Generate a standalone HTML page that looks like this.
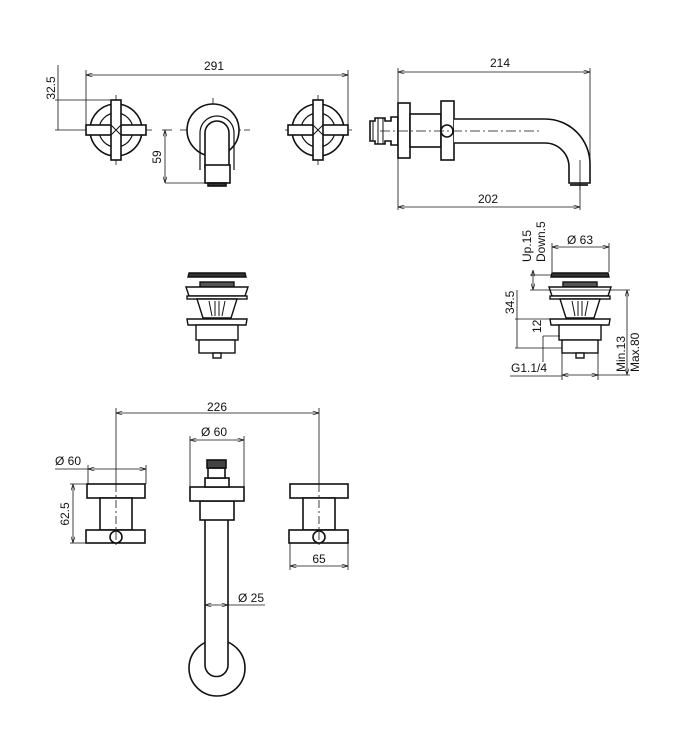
<!DOCTYPE html>
<html><head><meta charset="utf-8"><style>
html,body{margin:0;padding:0;background:#fff}
svg{display:block}
text{font-family:"Liberation Sans",sans-serif;font-size:12px;fill:#111}
</style></head><body>
<svg width="699" height="750" viewBox="0 0 699 750" xmlns="http://www.w3.org/2000/svg">
<defs>
<marker id="a" viewBox="0 0 10 6" refX="10" refY="3" markerWidth="8" markerHeight="5" orient="auto-start-reverse"><path d="M0,0L10,3L0,6" fill="none" stroke="#111" stroke-width="1"/></marker>
<g id="cross">
<circle cx="0" cy="0" r="26" fill="none" stroke="#111" stroke-width="1.6"/>
<circle cx="0" cy="0" r="17" fill="none" stroke="#111" stroke-width="1.2"/>
<rect x="-30" y="-5" width="60" height="10" fill="#fff" stroke="#111" stroke-width="1.6"/>
<rect x="-5" y="-30" width="10" height="60" fill="#fff" stroke="#111" stroke-width="1.6"/>
<path d="M-5,-5L5,5M5,-5L-5,5" stroke="#111" stroke-width="1"/>
</g>
<g id="waste" fill="#fff" stroke="#111" stroke-width="1.4">
<path d="M-29,277L-28,273L28,273L29,277Z" fill="#333"/>
<rect x="-17" y="282" width="34" height="5" fill="#555"/>
<path d="M-31,287L31,287L28,296L-28,296Z"/>
<rect x="-30" y="296" width="60" height="3"/>
<path d="M-20,299L20,299L14,318L-14,318Z"/>
<path d="M-8,301L-5,316M8,301L5,316M-2,301L-2,316M2,301L2,316" stroke-width="1"/>
<path d="M-30,319L30,319L29,325L-29,325Z"/>
<rect x="-21" y="325" width="42" height="15"/>
<rect x="-18" y="340" width="36" height="13"/>
<rect x="-4" y="353" width="8" height="5"/>
</g>
<g id="handle" fill="#fff" stroke="#111" stroke-width="1.6">
<rect x="-29" y="484" width="58" height="14"/>
<rect x="-16" y="498" width="32" height="32"/>
<rect x="-30" y="530" width="59" height="13"/>
<circle cx="0" cy="537" r="6"/>
</g>
</defs>
<g stroke="#111" stroke-width="0.8" fill="none">
<line x1="86" y1="75" x2="348" y2="75" marker-start="url(#a)" marker-end="url(#a)"/>
<line x1="86" y1="70" x2="86" y2="130"/><line x1="348" y1="70" x2="348" y2="130"/>
<line x1="55" y1="100" x2="110" y2="100"/><line x1="55" y1="130" x2="80" y2="130"/>
<line x1="58" y1="100" x2="58" y2="130"/>
<line x1="58" y1="65" x2="58" y2="100"/>
<line x1="162" y1="130" x2="172" y2="130"/><line x1="165" y1="183" x2="205" y2="183"/>
<line x1="165" y1="130" x2="165" y2="183" marker-start="url(#a)" marker-end="url(#a)"/>
<g stroke-dasharray="8,3,2,3"><line x1="80" y1="130" x2="152" y2="130"/><line x1="116" y1="95" x2="116" y2="165"/>
<line x1="180" y1="130" x2="250" y2="130"/><line x1="213" y1="98" x2="213" y2="130"/>
<line x1="285" y1="130" x2="352" y2="130"/><line x1="318" y1="95" x2="318" y2="165"/></g>
</g>
<use href="#cross" transform="translate(116,130)"/>
<use href="#cross" transform="translate(318,130)"/>
<g fill="#fff" stroke="#111" stroke-width="1.6">
<circle cx="213" cy="130" r="26"/>
<path d="M205,168L205,133A12,12 0 0 1 229,133L229,168"/>
<path d="M200,170L200,133A17,17 0 0 1 234,133L234,170" fill="none" stroke-width="1.2"/>
<rect x="205" y="165" width="25" height="18"/>
<rect x="208" y="183" width="18" height="3" fill="#333"/>
</g>
<text x="214" y="70" text-anchor="middle">291</text>
<text transform="translate(55,88) rotate(-90)" text-anchor="middle">32.5</text>
<text transform="translate(161,157) rotate(-90)" text-anchor="middle">59</text>
<g stroke="#111" stroke-width="0.8" fill="none">
<line x1="398" y1="72" x2="590" y2="72" marker-start="url(#a)" marker-end="url(#a)"/>
<line x1="398" y1="68" x2="398" y2="210"/><line x1="590" y1="68" x2="590" y2="180"/>
<line x1="398" y1="207" x2="580" y2="207" marker-start="url(#a)" marker-end="url(#a)"/>
<line x1="580" y1="155" x2="580" y2="210"/>
</g>
<g fill="#fff" stroke="#111" stroke-width="1.6">
<path d="M370,121h5v-3h10v3h6v-4h7v28h-7v-4h-6v3h-10v-3h-5Z"/>
<path d="M373,121v20M378,118v26M383,118v26" stroke-width="1"/>
<rect x="398" y="103" width="12" height="55"/>
<rect x="410" y="114" width="31" height="33"/>
<rect x="441" y="101" width="13" height="59"/>
<path d="M454,119L545,119A45,45 0 0 1 590,164L590,183L569,183L569,167A24,24 0 0 0 545,143L454,143" />
<circle cx="447" cy="131" r="6"/>
<rect x="570" y="183" width="18" height="3" fill="#333" stroke="none"/>
</g>
<line x1="380" y1="131" x2="540" y2="131" stroke="#111" stroke-width="0.8" stroke-dasharray="10,3,2,3"/>
<line x1="580" y1="160" x2="580" y2="190" stroke="#111" stroke-width="0.8"/>
<text x="500" y="67" text-anchor="middle">214</text>
<text x="488" y="203" text-anchor="middle">202</text>
<use href="#waste" transform="translate(217,0)"/>
<use href="#waste" transform="translate(580,0)"/>
<g stroke="#111" stroke-width="0.8" fill="none">
<line x1="552" y1="247" x2="609" y2="247" marker-start="url(#a)" marker-end="url(#a)"/>
<line x1="552" y1="243" x2="552" y2="272"/><line x1="609" y1="243" x2="609" y2="272"/>
<line x1="530" y1="275" x2="552" y2="275"/>
<line x1="533" y1="270" x2="533" y2="290" marker-start="url(#a)" marker-end="url(#a)"/>
<line x1="530" y1="290" x2="630" y2="290"/>
<line x1="627" y1="290" x2="627" y2="375" marker-start="url(#a)" marker-end="url(#a)"/>
<line x1="517" y1="290" x2="517" y2="348"/>
<line x1="515" y1="319" x2="550" y2="319"/>
<line x1="515" y1="348" x2="562" y2="348"/>
<line x1="543" y1="336" x2="543" y2="362"/>
<line x1="543" y1="336" x2="560" y2="336"/>
<line x1="562" y1="340" x2="562" y2="380"/><line x1="598" y1="340" x2="598" y2="380"/>
<line x1="562" y1="375" x2="598" y2="375" marker-start="url(#a)" marker-end="url(#a)"/>
<line x1="510" y1="376" x2="562" y2="376"/>
<line x1="598" y1="375" x2="630" y2="375"/>
</g>
<text x="567" y="244">Ø 63</text>
<text transform="translate(531,262) rotate(-90)">Up.15</text>
<text transform="translate(545,262) rotate(-90)">Down.5</text>
<text transform="translate(514,314) rotate(-90)">34.5</text>
<text transform="translate(541,333) rotate(-90)">12</text>
<text x="511" y="372">G1.1/4</text>
<text transform="translate(625,372) rotate(-90)">Min.13</text>
<text transform="translate(639,372) rotate(-90)">Max.80</text>
<use href="#handle" transform="translate(116,0)"/>
<use href="#handle" transform="translate(319,0)"/>
<g fill="#fff" stroke="#111" stroke-width="1.6">
<circle cx="217" cy="668" r="28" fill="none"/>
<path d="M205,520L205,665A11.5,11.5 0 0 0 228,665L228,520" fill="#fff"/>
<rect x="200" y="501" width="34" height="19"/>
<rect x="190" y="487" width="54" height="14"/>
<rect x="205" y="478" width="24" height="9"/>
<rect x="208" y="468" width="17" height="10"/>
<rect x="207" y="460" width="19" height="8" fill="#444"/>
</g>
<g stroke="#111" stroke-width="0.8" fill="none">
<line x1="116" y1="413" x2="319" y2="413" marker-start="url(#a)" marker-end="url(#a)"/>
<line x1="116" y1="408" x2="116" y2="484"/><line x1="319" y1="408" x2="319" y2="484"/>
<g stroke-dasharray="8,3,2,3"><line x1="116" y1="484" x2="116" y2="545"/><line x1="319" y1="484" x2="319" y2="545"/></g>
<line x1="88" y1="469" x2="146" y2="469" marker-start="url(#a)" marker-end="url(#a)"/>
<line x1="55" y1="469" x2="88" y2="469"/>
<line x1="88" y1="465" x2="88" y2="484"/><line x1="146" y1="465" x2="146" y2="484"/>
<line x1="70" y1="484" x2="88" y2="484"/><line x1="70" y1="543" x2="86" y2="543"/>
<line x1="73" y1="484" x2="73" y2="543" marker-start="url(#a)" marker-end="url(#a)"/>
<line x1="190" y1="440" x2="244" y2="440" marker-start="url(#a)" marker-end="url(#a)"/>
<line x1="190" y1="436" x2="190" y2="487"/><line x1="244" y1="436" x2="244" y2="487"/>
<line x1="290" y1="566" x2="348" y2="566" marker-start="url(#a)" marker-end="url(#a)"/>
<line x1="290" y1="543" x2="290" y2="570"/><line x1="348" y1="543" x2="348" y2="570"/>
<line x1="205" y1="605" x2="228" y2="605" marker-start="url(#a)" marker-end="url(#a)"/>
<line x1="228" y1="605" x2="265" y2="605"/>
</g>
<text x="217" y="411" text-anchor="middle">226</text>
<text x="201" y="436">Ø 60</text>
<text x="55" y="465">Ø 60</text>
<text transform="translate(69,514) rotate(-90)" text-anchor="middle">62.5</text>
<text x="319" y="563" text-anchor="middle">65</text>
<text x="238" y="602">Ø 25</text>
</svg>
</body></html>
